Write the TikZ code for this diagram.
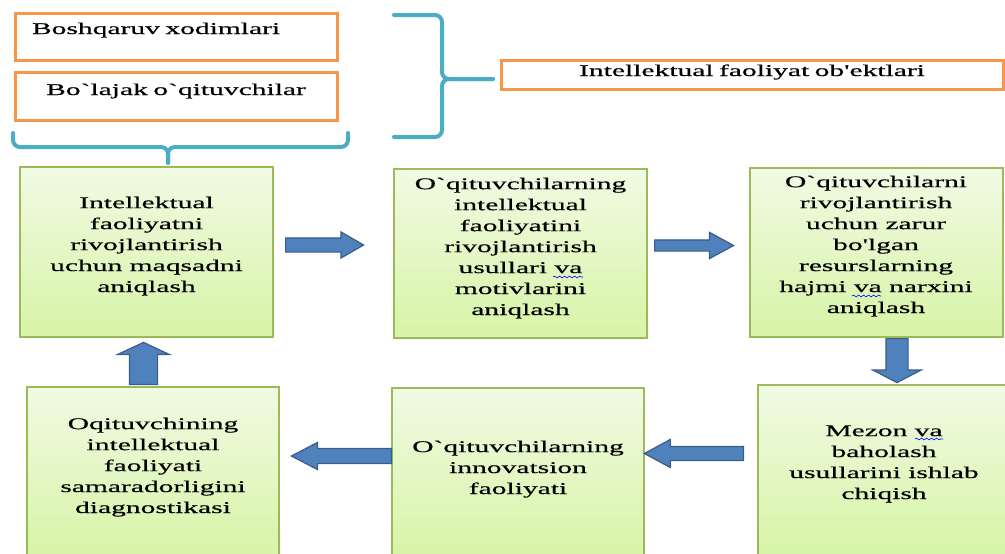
\documentclass[tikz,border=0pt]{standalone}
\usepackage{fontspec}
\setmainfont{Liberation Serif}[FakeStretch=1.8, FakeBold=0.5, Ligatures=TeXOff]
\usetikzlibrary{positioning}
\usetikzlibrary{shapes.arrows}
\usetikzlibrary{shadows}
\usetikzlibrary{decorations.pathmorphing}
\definecolor{bracecol}{HTML}{4BACC6}
\definecolor{boxorange}{HTML}{F79646}
\definecolor{boxgreen}{HTML}{9BBB59}
\definecolor{greentop}{HTML}{F1FAE4}
\definecolor{greenbot}{HTML}{D7F4A6}
\definecolor{arrowblue}{HTML}{4F81BD}
\definecolor{arrowedge}{HTML}{385D8A}
\newcommand{\pu}{0.03cm}
\newcommand{\boxfont}{\fontsize{14}{17.9}\selectfont}
\tikzset{brace/.style={draw=bracecol, line width=4*\pu, line cap=round, rounded corners=7*\pu}}
\tikzset{obox/.style={draw=boxorange, line width=3*\pu, fill=white, inner xsep=17*\pu, inner ysep=0pt, font=\boxfont}}
\tikzset{gbox/.style={draw=boxgreen, line width=2*\pu, top color=greentop, bottom color=greenbot,
    minimum width=253*\pu, inner ysep=0pt, align=center, font=\boxfont,
    drop shadow={shadow xshift=1.2pt, shadow yshift=-1.2pt, opacity=0.3, fill=black!60}}}
\tikzset{blockarr/.style={single arrow, draw=arrowedge, fill=arrowblue, line width=1.2*\pu,
    inner xsep=0pt, single arrow head indent=0pt, anchor=tail}}
\tikzset{spellwave/.style={draw=blue, line width=0.5pt, decorate,
    decoration={snake, amplitude=0.9*\pu, segment length=5*\pu}}}

\begin{document}
\begin{tikzpicture}[x=0.03cm, y=-0.03cm]
\useasboundingbox (0,0) rectangle (1005,553);
\clip (0,0) rectangle (1005,553);

% who is involved
\node[obox, text width=288*\pu, align=left, text height=21*\pu, text depth=26*\pu] (staff) at (176,36.5) {Boshqaruv xodimlari};
\node[obox, text width=288*\pu, align=center, text height=23*\pu, text depth=25*\pu] (future) at (176,96) {Bo`lajak o`qituvchilar};
\node[obox, inner xsep=0pt, text width=502*\pu, align=center, text height=16*\pu, text depth=13*\pu] (obj) at (752,74.5) {Intellektual faoliyat ob'ektlari};

\coordinate (rtip) at (442,79);
\coordinate (btip) at (168,147);
\draw[brace] (394,15) -| (rtip) -- (493,79);
\draw[brace] (394,137) -| (rtip) -- (493,79);
\draw[brace] (13,133) |- (btip) -- (168,163);
\draw[brace] (348,133) |- (btip) -- (168,163);

% cycle of steps
\node[gbox, text height=125*\pu, text depth=45*\pu] (b1) at (146.5,252) {Intellektual\\faoliyatni\\rivojlantirish\\uchun maqsadni\\aniqlash};
\node[gbox, text height=146*\pu, text depth=23*\pu] (b2) at (520.5,253.5) {O`qituvchilarning\\intellektual\\faoliyatini\\rivojlantirish\\usullari va\\motivlarini\\aniqlash};
\node[gbox, text height=145*\pu, text depth=24*\pu] (b3) at (876,252.5) {O`qituvchilarni\\rivojlantirish\\uchun zarur\\bo'lgan\\resurslarning\\hajmi va narxini\\aniqlash};
\node[gbox, minimum width=252*\pu, text height=114*\pu, text depth=56*\pu] (b4) at (884,470) {Mezon va\\baholash\\usullarini ishlab\\chiqish};
\node[gbox, minimum width=252*\pu, text height=106*\pu, text depth=64*\pu] (b5) at (518,473) {O`qituvchilarning\\innovatsion\\faoliyati};
\node[gbox, minimum width=252*\pu, text height=126*\pu, text depth=44*\pu] (b6) at (153,472) {Oqituvchining\\intellektual\\faoliyati\\samaradorligini\\diagnostikasi};

% spell marks under "va"
\draw[spellwave] (553,277) -- (583,277);
\draw[spellwave] (852,296) -- (881,296);
\draw[spellwave] (915,439) -- (943,439);

\node[blockarr, minimum height=78*\pu, minimum width=25*\pu, inner ysep=6.5*\pu, single arrow head extend=6*\pu, single arrow tip angle=60] (a12) at (285,245) {};
\node[blockarr, minimum height=79*\pu, minimum width=25*\pu, inner ysep=5*\pu, single arrow head extend=7.5*\pu, single arrow tip angle=57] (a23) at (654,245.5) {};
\node[blockarr, minimum height=44*\pu, minimum width=47*\pu, inner ysep=10.5*\pu, single arrow head extend=13*\pu, single arrow tip angle=125, rotate=-90] (a34) at (897,338) {};
\node[blockarr, minimum height=99*\pu, minimum width=27*\pu, inner ysep=6.5*\pu, single arrow head extend=7*\pu, single arrow tip angle=57, rotate=180] (a45) at (744,453.5) {};
\node[blockarr, minimum height=100*\pu, minimum width=26*\pu, inner ysep=7*\pu, single arrow head extend=6*\pu, single arrow tip angle=55, rotate=180] (a56) at (392,456) {};
\node[blockarr, minimum height=42*\pu, minimum width=51*\pu, inner ysep=13.5*\pu, single arrow head extend=12*\pu, single arrow tip angle=130, rotate=90] (a61) at (143.5,385) {};
\end{tikzpicture}
\end{document}
